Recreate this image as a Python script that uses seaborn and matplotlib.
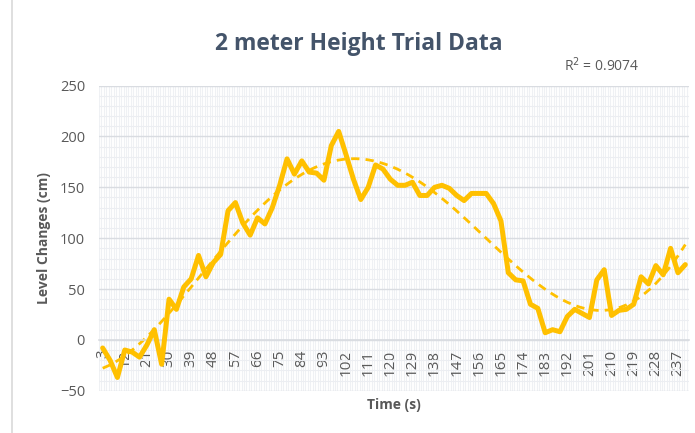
import numpy as np
import pandas as pd
import matplotlib
matplotlib.use("Agg")
import matplotlib.pyplot as plt
import seaborn as sns

# time in seconds, one sample every 3 s
time_s = list(range(3, 241, 3))
level_cm = [
    -8, -20, -37, -10, -12, -17, -5, 10, -24, 40,
    30, 52, 60, 83, 62, 76, 84, 127, 135, 115,
    103, 120, 114, 130, 152, 178, 163, 176, 165, 164,
    157, 191, 205, 182, 158, 138, 150, 172, 168, 158,
    152, 152, 155, 142, 142, 150, 152, 149, 142, 137,
    144, 144, 144, 134, 117, 66, 59, 58, 35, 31,
    7, 10, 8, 23, 30, 26, 22, 59, 69, 24,
    29, 30, 35, 62, 55, 73, 64, 90, 66, 74,
]
tick_labels = [str(t) for t in time_s[::3]]
r2_label = "R$^2$ = 0.9074"

df = pd.DataFrame({"Time (s)": time_s, "Level Changes (cm)": level_cm})

sns.set_style("white")
plt.rcParams["font.family"] = ["Open Sans", "DejaVu Sans"]

gold = "#FFC000"
txt = "#595959"

fig = plt.figure(figsize=(6.95, 4.33), dpi=100)
ax = fig.add_axes([0.1424, 0.0977, 0.849, 0.7045])

# light background grid
for x in np.arange(1.5, 242, 1.0):
    ax.axvline(x, color="#EFF1F4", lw=0.8, zorder=0)
ax.set_yticks(np.arange(-50, 251, 10), minor=True)
ax.grid(which="minor", axis="y", color="#ECEEF2", lw=0.8, zorder=0)
ax.grid(which="major", axis="y", color="#D9DCE1", lw=1.0, zorder=0)

# polynomial trendline (order 6, like the spreadsheet one)
sns.regplot(data=df, x="Time (s)", y="Level Changes (cm)", order=6,
            scatter=False, ci=None, truncate=True, ax=ax,
            line_kws=dict(color=gold, lw=2, ls=(0, (3, 2.2))))
sns.lineplot(data=df, x="Time (s)", y="Level Changes (cm)", color=gold,
             lw=3.6, ax=ax, zorder=3)

ax.set_xlim(1.5, 241.5)
ax.set_ylim(-50, 250)
ax.set_yticks(range(-50, 251, 50))
ax.set_xticks(time_s[::3])
ax.set_xticklabels(tick_labels)
ax.set_xticks(np.arange(1.5, 242, 3), minor=True)

for s in ["top", "right", "left"]:
    ax.spines[s].set_visible(False)
ax.spines["bottom"].set_position(("data", 0))
ax.spines["bottom"].set_color("#D9DCE1")
ax.spines["bottom"].set_linewidth(1.2)

ax.tick_params(axis="x", which="major", length=0, pad=7, labelsize=11,
               labelcolor=txt, labelrotation=90)
ax.tick_params(axis="x", which="minor", length=4, color="#D9DCE1", width=0.8)
ax.tick_params(axis="y", which="both", length=0, labelsize=10.5, labelcolor=txt, pad=10)

ax.set_xlabel("")
ax.set_ylabel("Level Changes (cm)", fontsize=10, fontweight="bold", color=txt, labelpad=6)
fig.text(0.567, 0.055, "Time (s)", fontsize=10, fontweight="bold", color=txt, ha="center")

fig.suptitle("2 meter Height Trial Data", x=0.516, y=0.925, fontsize=16.5,
             fontweight="bold", color="#44546A")
fig.text(0.812, 0.835, r2_label, fontsize=10, color=txt)

# chart border on the left
fig.add_artist(plt.Line2D([12 / 695, 12 / 695], [0, 1], color="#D9D9D9", lw=1.2))

fig.savefig("out.png", dpi=100)
